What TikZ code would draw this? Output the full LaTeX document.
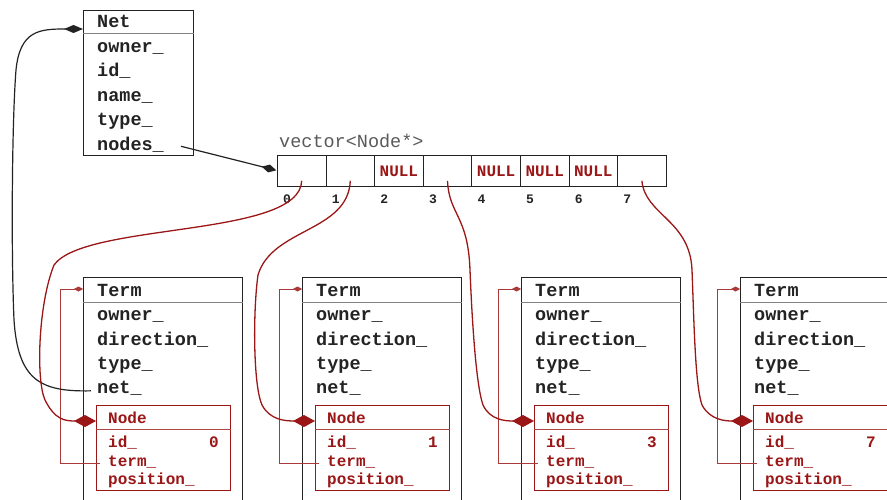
\documentclass[tikz,border=0pt]{standalone}
\usepackage{fontspec}
\newfontfamily\mono{Liberation Mono}
\usetikzlibrary{arrows.meta}
\definecolor{dred}{RGB}{155,22,22}
\definecolor{lnk}{RGB}{35,35,35}
\definecolor{sepc}{RGB}{130,130,130}
\begin{document}
\begin{tikzpicture}[x=1pt,y=-1pt,
  box/.style={draw=lnk, line width=0.9pt, inner sep=0pt, anchor=north west, fill=white},
  nbox/.style={draw=dred, line width=0.9pt, inner sep=0pt, anchor=north west, fill=white},
  cell/.style={draw=lnk, line width=0.8pt, inner sep=0pt, minimum width=48.6pt, minimum height=31pt, anchor=north west},
  txt/.style={font=\mono\bfseries\fontsize{18.5}{20}\selectfont, text=lnk, anchor=base west, inner sep=0pt},
  ntxt/.style={font=\mono\bfseries\fontsize{16}{18}\selectfont, text=dred, anchor=base west, inner sep=0pt},
  nulltxt/.style={font=\mono\bfseries\fontsize{16}{18}\selectfont, text=dred, inner sep=0pt},
  idx/.style={font=\mono\bfseries\fontsize{13}{15}\selectfont, text=lnk, anchor=base west, inner sep=0pt},
  sepline/.style={draw=sepc, line width=0.7pt},
  nsep/.style={draw=dred!80, line width=0.7pt},
  blklink/.style={draw=lnk, line width=1.2pt},
  redlink/.style={draw=dred, line width=1.3pt, -{Diamond[length=22pt,width=12pt]}},
  backlink/.style={draw=dred!85, line width=0.7pt, -{Diamond[length=9pt,width=5pt]}}
]
\useasboundingbox (0,0) rectangle (887,500);
\clip (0,0) rectangle (887,500);

% Net box
\node[box, minimum width=110pt, minimum height=145pt] (net) at (83,10) {};
\draw[sepline] ([yshift=-23pt]net.north west) -- ([yshift=-23pt]net.north east);
\node[txt] (netT) at (97,28) {Net};
\node[txt] (netOwner) at (97,53) {owner\_};
\node[txt] (netId) at (97,77) {id\_};
\node[txt] (netName) at (97,102) {name\_};
\node[txt] (netType) at (97,126) {type\_};
\node[txt] (netNodes) at (97,151) {nodes\_};

% vector
\node[font=\mono\fontsize{18.5}{20}\selectfont, text=black!65, anchor=base west, inner sep=0pt] (vlabel) at (279,148) {vector<Node*>};
\foreach \i in {0,...,7}{
  \node[cell] (c\i) at ({277+48.6*\i},155) {};
  \node[idx] (ix\i) at ({283+48.6*\i},204) {\i};
}
\node[nulltxt] (n2) at (c2) {NULL};
\node[nulltxt] (n4) at (c4) {NULL};
\node[nulltxt] (n5) at (c5) {NULL};
\node[nulltxt] (n6) at (c6) {NULL};
\node[inner sep=0pt] (vec) at (277,170.5) {};

% Term boxes with Node boxes
\foreach \i/\x/\v in {1/83/0, 2/302/1, 3/521/3, 4/740/7}{
  \node[box, minimum width=159pt, minimum height=260pt] (t\i) at (\x,277) {};
  \draw[sepline] ([yshift=-25pt]t\i.north west) -- ([yshift=-25pt]t\i.north east);
  \node[txt] (tt\i) at (\x+14,296.5) {Term};
  \node[txt] (to\i) at (\x+14,320.5) {owner\_};
  \node[txt] (td\i) at (\x+14,345) {direction\_};
  \node[txt] (ty\i) at (\x+14,369) {type\_};
  \node[txt] (tn\i) at (\x+14,393) {net\_};
  \node[nbox, minimum width=134pt, minimum height=85pt] (nd\i) at (\x+13,405) {};
  \draw[nsep] ([yshift=-24pt]nd\i.north west) -- ([yshift=-24pt]nd\i.north east);
  \node[ntxt] (ndh\i) at (\x+25,423.5) {Node};
  \node[ntxt] (ndi\i) at (\x+25,447.5) {id\_};
  \node[ntxt] (ndv\i) at (\x+126,447.5) {\v};
  \node[ntxt] (ndt\i) at (\x+25,466) {term\_};
  \node[ntxt] (ndp\i) at (\x+25,484) {position\_};
  \draw[backlink] ([xshift=-8pt,yshift=-2pt]ndt\i.west) -| ([xshift=-23pt,yshift=-12pt]t\i.north west) -- ([yshift=-12pt]t\i.north west);
}

% nodes_ -> vector
\draw[blklink, -{Diamond[length=15pt,width=8pt]}] ([xshift=17pt,yshift=-1pt]netNodes.east) -- (vec);

% net_ -> Net
\draw[blklink, -{Diamond[length=19pt,width=8pt]}] ([xshift=-6pt,yshift=-3pt]tn1.west)
  .. controls (40,392) and (18,380) .. (14,320)
  .. controls (11,250) and (12,120) .. (16,70)
  .. controls (20,30) and (40,29) .. ([yshift=-19pt]net.north west);

% vector cells -> Node boxes
\draw[redlink] ([yshift=6pt]c0.south)
  .. controls (300,238) and (85,222) .. (54,265)
  .. controls (38,305) and (36,380) .. (45,400)
  .. controls (55,420) and (65,421) .. ([yshift=-16pt]nd1.north west);
\draw[redlink] ([yshift=6pt]c1.south)
  .. controls (348,232) and (272,228) .. (258,275)
  .. controls (253,310) and (253,385) .. (262,405)
  .. controls (270,420) and (285,421) .. ([yshift=-16pt]nd2.north west);
\draw[redlink] ([yshift=6pt]c3.south)
  .. controls (449,215) and (468,215) .. (470,270)
  .. controls (472,320) and (476,385) .. (483,405)
  .. controls (490,420) and (505,421) .. ([yshift=-16pt]nd3.north west);
\draw[redlink] ([yshift=6pt]c7.south)
  .. controls (645,215) and (690,220) .. (692,270)
  .. controls (694,320) and (695,385) .. (702,405)
  .. controls (710,420) and (725,421) .. ([yshift=-16pt]nd4.north west);
\end{tikzpicture}
\end{document}
